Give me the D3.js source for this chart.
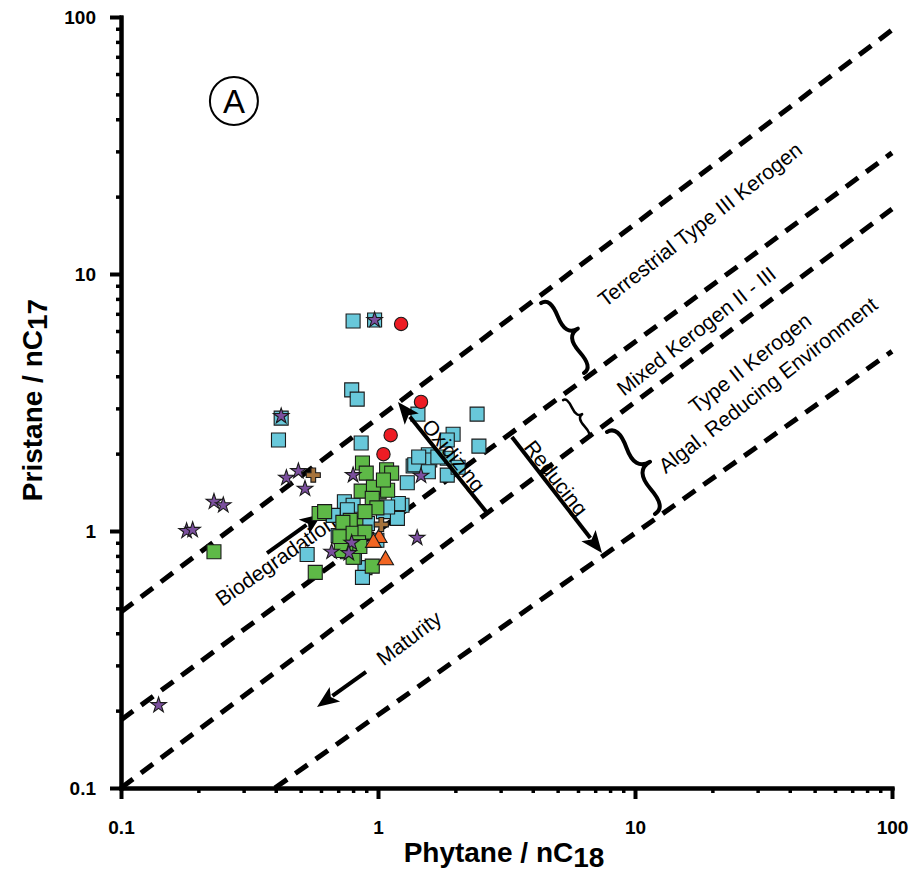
<!DOCTYPE html>
<html>
<head>
<meta charset="utf-8">
<script src="https://cdn.jsdelivr.net/npm/d3@7"></script>
<style>
    body { margin: 0; background: #fff; }
    svg { display: block; font-family: "Liberation Sans", Arial, sans-serif; }
</style>
</head>
<body>
<div id="chart"></div>
<script>

// values, [Phytane / nC18, Pristane / nC17]
const cyanSquares = [
    [0.80, 6.56], [0.97, 6.62], [0.79, 3.54], [0.83, 3.26], [1.43, 2.85], [2.43, 2.85],
    [0.86, 2.20], [1.96, 2.38], [1.86, 2.26], [2.47, 2.14], [0.42, 2.75], [0.41, 2.26],
    [0.53, 0.81], [1.37, 1.79], [1.57, 1.98], [1.59, 1.89], [1.39, 1.81], [1.86, 1.92],
    [1.71, 1.94], [1.44, 1.94], [1.57, 1.70], [1.86, 1.65], [1.30, 1.54], [1.24, 1.26],
    [1.20, 1.28], [1.19, 1.12], [0.74, 1.30], [0.80, 1.26], [0.67, 1.15], [0.70, 0.96],
    [1.05, 1.19], [0.99, 0.92], [0.89, 0.72], [0.81, 0.79], [0.91, 1.07], [1.09, 1.24],
    [0.76, 1.21], [2.05, 1.77], [0.87, 0.66]
];

const greenSquares = [
    [0.23, 0.83], [0.59, 1.17], [0.57, 0.69], [0.87, 1.84], [0.90, 1.68], [1.08, 1.73],
    [1.13, 1.68], [0.86, 1.43], [1.01, 1.42], [1.09, 1.44], [0.96, 1.48], [0.95, 1.34],
    [0.99, 1.23], [0.62, 1.19], [0.82, 1.07], [0.78, 1.10], [0.73, 1.08], [0.71, 0.95],
    [0.80, 0.98], [0.89, 0.99], [0.84, 0.90], [0.76, 0.83], [0.72, 0.84], [0.95, 0.73],
    [0.80, 0.79], [0.85, 0.87], [1.05, 1.58], [0.89, 1.19]
];

const purpleStars = [
    [0.97, 6.62], [0.42, 2.80], [0.18, 1.00], [0.19, 1.01], [0.23, 1.30], [0.25, 1.26],
    [0.44, 1.61], [0.49, 1.71], [0.52, 1.46], [0.80, 1.65], [0.66, 0.83], [0.79, 0.90],
    [0.77, 0.82], [1.42, 0.94], [1.47, 1.64], [0.14, 0.21]
];

const redCircles = [[1.23, 6.39], [1.47, 3.18], [1.12, 2.36], [1.05, 1.99]];

const orangeTriangles = [[1.01, 0.94], [0.96, 0.90], [1.07, 0.77]];

const brownCrosses = [[0.56, 1.65], [1.03, 1.06]];

// dashed kerogen boundaries, end points in data units
const boundaryLines = [
    [[0.1, 0.484], [100, 89]],
    [[0.1, 0.184], [100, 29.6]],
    [[0.1, 0.1], [100, 17.9]],
    [[0.397, 0.1], [100, 5.0]]
];

// the biodegradation arrow sits under the samples, the others on top
const arrows = [
    { from: [0.37, 0.821], to: [0.605, 1.165], over: false },  // biodegradation
    { from: [2.66, 1.175], to: [1.196, 3.18], over: true },    // oxidizing
    { from: [3.32, 2.32], to: [7.44, 0.821], over: true },     // reducing
    { from: [0.898, 0.283], to: [0.579, 0.2066], over: true }  // maturity
];

const braces = [
    { top: [4.31, 7.71], bottom: [6.33, 4.12], w: 18, sw: 4 },
    { top: [5.25, 3.23], bottom: [6.56, 2.32], w: 8, sw: 2.5 },
    { top: [7.78, 2.43], bottom: [11.96, 1.165], w: 22, sw: 4 }
];

const notes = [
    { text: "Terrestrial Type III Kerogen", at: [17.9, 15.6], angle: -38, over: false },
    { text: "Mixed Kerogen II - III", at: [17.3, 6.0], angle: -38, over: false },
    { text: "Type II Kerogen", at: [28.0, 4.5], angle: -38, over: false },
    { text: "Algal, Reducing Environment", at: [32.9, 3.7], angle: -38, over: false },
    { text: "Biodegradation", at: [0.40, 0.768], angle: -35, over: false },
    { text: "Oxidizing", at: [1.97, 1.97], angle: 51, over: true },
    { text: "Reducing", at: [4.93, 1.61], angle: 52, over: true },
    { text: "Maturity", at: [1.32, 0.383], angle: -37, over: true }
];

const panelMark = { text: "A", at: [0.275, 47.1] };

const majorTicks = [0.1, 1, 10, 100];
const minorTicks = [];
[0.1, 1, 10].forEach(dec => {
    for (let k = 2; k <= 9; k++) minorTicks.push(dec * k);
});


const width = 915, height = 873;
const fontFamily = "'Liberation Sans', Arial, sans-serif";

const svg = d3.select("#chart").append("svg")
    .attr("width", width)
    .attr("height", height);

const xScale = d3.scaleLog().domain([0.1, 100]).range([121, 892]);
const yScale = d3.scaleLog().domain([0.1, 100]).range([788, 17]);

const underLayer = svg.append("g");
const pointLayer = svg.append("g");
const overLayer = svg.append("g");


// boundary lines
underLayer.append("g")
    .selectAll("line")
    .data(boundaryLines)
    .enter().append("line")
    .attr("x1", d => xScale(d[0][0]))
    .attr("y1", d => yScale(d[0][1]))
    .attr("x2", d => xScale(d[1][0]))
    .attr("y2", d => yScale(d[1][1]))
    .attr("stroke", "#000")
    .attr("stroke-width", 5)
    .attr("stroke-dasharray", "15,10");


// curly brace between two screen points, bulging to the right of top->bottom
function bracePath(p1, p2, w) {
    const x1 = p1[0], y1 = p1[1], x2 = p2[0], y2 = p2[1];
    const len = Math.hypot(x2 - x1, y2 - y1);
    const ux = (x2 - x1) / len, uy = (y2 - y1) / len;
    const nx = uy, ny = -ux;
    const q = 0.6;
    const pt = (t, off) => [x1 + ux * len * t + nx * off, y1 + uy * len * t + ny * off];
    const c1 = pt(0, q * w), c2 = pt(0.25, (1 - q) * w), tip = pt(0.5, w);
    const c3 = pt(1, q * w), c4 = pt(0.75, (1 - q) * w);
    return `M${x1},${y1}Q${c1} ${c2}T${tip}M${x2},${y2}Q${c3} ${c4}T${tip}`;
}

underLayer.append("g")
    .selectAll("path")
    .data(braces)
    .enter().append("path")
    .attr("d", d => bracePath(
        [xScale(d.top[0]), yScale(d.top[1])],
        [xScale(d.bottom[0]), yScale(d.bottom[1])], d.w))
    .attr("fill", "none")
    .attr("stroke", "#000")
    .attr("stroke-width", d => d.sw)
    .attr("stroke-linecap", "round");


// labels
[false, true].forEach(over => {
    (over ? overLayer : underLayer).append("g")
        .selectAll("text")
        .data(notes.filter(d => d.over === over))
        .enter().append("text")
        .attr("text-anchor", "middle")
        .attr("dy", "0.35em")
        .attr("transform", d => `translate(${xScale(d.at[0])},${yScale(d.at[1])}) rotate(${d.angle})`)
        .style("font-family", fontFamily)
        .style("font-size", "21px")
        .text(d => d.text);
});


// arrows
arrows.forEach(a => {
    const g = a.over ? overLayer : underLayer;
    const x0 = xScale(a.from[0]), y0 = yScale(a.from[1]);
    const x1 = xScale(a.to[0]), y1 = yScale(a.to[1]);
    const len = Math.hypot(x1 - x0, y1 - y0);
    const ux = (x1 - x0) / len, uy = (y1 - y0) / len;
    const hl = 22, hw = 9;
    const bx = x1 - ux * hl, by = y1 - uy * hl;

    g.append("line")
        .attr("x1", x0).attr("y1", y0)
        .attr("x2", bx + ux * 3).attr("y2", by + uy * 3)
        .attr("stroke", "#000")
        .attr("stroke-width", 4);

    g.append("path")
        .attr("d", `M${x1},${y1}L${bx - uy * hw},${by + ux * hw}L${bx + ux * 5},${by + uy * 5}L${bx + uy * hw},${by - ux * hw}Z`)
        .attr("fill", "#000");
});


// circled panel letter
const mark = underLayer.append("g")
    .attr("transform", `translate(${xScale(panelMark.at[0])},${yScale(panelMark.at[1])})`);
mark.append("circle")
    .attr("r", 24)
    .attr("fill", "none")
    .attr("stroke", "#000")
    .attr("stroke-width", 2);
mark.append("text")
    .attr("text-anchor", "middle")
    .attr("dy", "0.36em")
    .style("font-family", fontFamily)
    .style("font-size", "33px")
    .text(panelMark.text);


// samples
const series = [
    { data: cyanSquares, type: d3.symbolSquare, size: 196, fill: "#68c8da" },
    { data: greenSquares, type: d3.symbolSquare, size: 196, fill: "#5eb947" },
    { data: redCircles, type: d3.symbolCircle, size: 140, fill: "#ed1c24" },
    { data: orangeTriangles, type: d3.symbolTriangle, size: 110, fill: "#f26522" },
    { data: brownCrosses, type: d3.symbolCross, size: 110, fill: "#a6733c" },
    { data: purpleStars, type: d3.symbolStar, size: 75, fill: "#7b4f9e" }
];

series.forEach(s => {
    pointLayer.append("g")
        .selectAll("path")
        .data(s.data)
        .enter().append("path")
        .attr("transform", d => `translate(${xScale(d[0])},${yScale(d[1])})`)
        .attr("d", d3.symbol().type(s.type).size(s.size))
        .attr("fill", s.fill)
        .attr("stroke", "#1a1a1a")
        .attr("stroke-width", 1.1);
});


// axes
function styleAxis(g, major) {
    g.select(".domain")
        .attr("stroke", "#000")
        .attr("stroke-width", 4)
        .attr("stroke-linecap", "square");
    g.selectAll(".tick line")
        .attr("stroke", "#000")
        .attr("stroke-width", major ? 4 : 3.5);
    g.selectAll(".tick text")
        .attr("fill", "#000")
        .style("font-family", fontFamily)
        .style("font-size", "19px")
        .style("font-weight", "bold");
}

svg.append("g")
    .attr("transform", "translate(0,788)")
    .call(d3.axisBottom(xScale).tickValues(minorTicks).tickSize(5).tickSizeOuter(0).tickFormat(""))
    .call(g => styleAxis(g, false));

svg.append("g")
    .attr("transform", "translate(0,788)")
    .call(d3.axisBottom(xScale).tickValues(majorTicks).tickSize(11).tickSizeOuter(0)
        .tickPadding(22).tickFormat(d => String(d)))
    .call(g => styleAxis(g, true));

svg.append("g")
    .attr("transform", "translate(121,0)")
    .call(d3.axisLeft(yScale).tickValues(minorTicks).tickSize(5).tickSizeOuter(0).tickFormat(""))
    .call(g => styleAxis(g, false));

svg.append("g")
    .attr("transform", "translate(121,0)")
    .call(d3.axisLeft(yScale).tickValues(majorTicks).tickSize(11).tickSizeOuter(0)
        .tickPadding(14).tickFormat(d => String(d)))
    .call(g => styleAxis(g, true));


// axis titles
const titleStyle = t => t
    .attr("text-anchor", "middle")
    .style("font-family", fontFamily)
    .style("font-size", "28px")
    .style("font-weight", "bold");

const xTitle = svg.append("text")
    .attr("x", 504)
    .attr("y", 862)
    .call(titleStyle);
xTitle.append("tspan").text("Phytane / nC");
xTitle.append("tspan").attr("dy", 5).text("18");

const yTitle = svg.append("text")
    .attr("transform", "translate(42,400) rotate(-90)")
    .call(titleStyle);
yTitle.append("tspan").text("Pristane / nC");
yTitle.append("tspan").attr("dy", 5).text("17");

</script>
</body>
</html>
